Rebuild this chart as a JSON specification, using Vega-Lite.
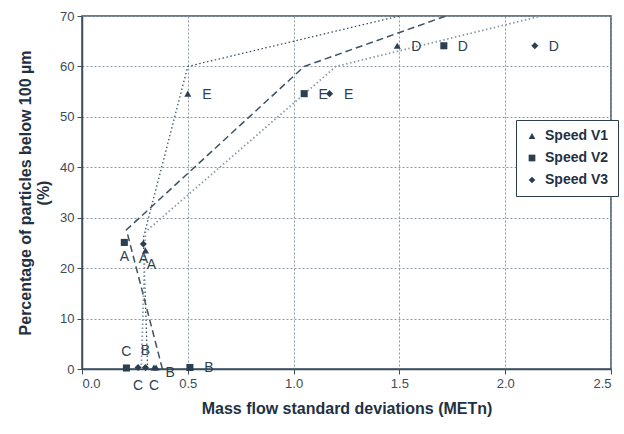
{
  "$schema": "https://vega.github.io/schema/vega-lite/v6.json",
  "width": 529,
  "height": 353,
  "autosize": "none",
  "padding": {"left": 82, "top": 16, "right": 13, "bottom": 65},
  "background": "white",
  "config": {
    "font": "Liberation Sans",
    "view": {"stroke": "#3d4f5f", "strokeWidth": 1.5},
    "axis": {
      "labelFont": "Liberation Sans",
      "labelFontSize": 13,
      "labelColor": "#3b4b5a",
      "tickColor": "#3d4f5f",
      "tickSize": 5,
      "domainColor": "#3d4f5f",
      "domainWidth": 1.5,
      "grid": true,
      "gridColor": "#8c99a5",
      "gridDash": [2, 2],
      "gridWidth": 1,
      "titleFont": "Liberation Sans",
      "titleFontSize": 16,
      "titleFontWeight": "bold",
      "titleColor": "#1f3142"
    },
    "legend": {
      "labelFont": "Liberation Sans",
      "labelFontSize": 14,
      "labelFontWeight": "bold",
      "labelColor": "#1f3142"
    }
  },
  "datasets": {
    "pts": [
      {"series": "Speed V1", "pt": "E", "x": 0.5, "y": 54.6},
      {"series": "Speed V1", "pt": "D", "x": 1.49, "y": 64.1},
      {"series": "Speed V1", "pt": "A", "x": 0.3, "y": 23.5},
      {"series": "Speed V1", "pt": "B", "x": 0.35, "y": 0.3},
      {"series": "Speed V1", "pt": "C", "x": 0.34, "y": 0.3},
      {"series": "Speed V2", "pt": "E", "x": 1.05, "y": 54.6},
      {"series": "Speed V2", "pt": "D", "x": 1.71, "y": 64.1},
      {"series": "Speed V2", "pt": "A", "x": 0.2, "y": 25.1},
      {"series": "Speed V2", "pt": "B", "x": 0.51, "y": 0.3},
      {"series": "Speed V2", "pt": "C", "x": 0.21, "y": 0.2},
      {"series": "Speed V3", "pt": "E", "x": 1.17, "y": 54.6},
      {"series": "Speed V3", "pt": "D", "x": 2.14, "y": 64.1},
      {"series": "Speed V3", "pt": "A", "x": 0.29, "y": 24.8},
      {"series": "Speed V3", "pt": "B", "x": 0.3, "y": 0.3},
      {"series": "Speed V3", "pt": "C", "x": 0.265, "y": 0.3}
    ],
    "lines": [
      {"curve": "V1", "o": 1, "x": 0.31, "y": 0},
      {"curve": "V1", "o": 2, "x": 0.29, "y": 26},
      {"curve": "V1", "o": 3, "x": 0.5, "y": 60},
      {"curve": "V1", "o": 4, "x": 1.5, "y": 70},
      {"curve": "V2", "o": 1, "x": 0.38, "y": 0},
      {"curve": "V2", "o": 2, "x": 0.21, "y": 27.6},
      {"curve": "V2", "o": 3, "x": 1.05, "y": 60},
      {"curve": "V2", "o": 4, "x": 1.72, "y": 70},
      {"curve": "V3", "o": 1, "x": 0.28, "y": 0},
      {"curve": "V3", "o": 2, "x": 0.3, "y": 27.2},
      {"curve": "V3", "o": 3, "x": 1.2, "y": 60},
      {"curve": "V3", "o": 4, "x": 2.17, "y": 70}
    ]
  },
  "encoding": {
    "x": {
      "field": "x", "type": "quantitative",
      "scale": {"domain": [0, 2.5], "nice": false},
      "axis": {"values": [0, 0.5, 1, 1.5, 2, 2.5], "format": ".1f", "labelPadding": 3, "titlePadding": 10, "title": "Mass flow standard deviations (METn)"}
    },
    "y": {
      "field": "y", "type": "quantitative",
      "scale": {"domain": [0, 70], "nice": false},
      "axis": {"values": [0, 10, 20, 30, 40, 50, 60, 70], "labelPadding": 3, "titlePadding": 8, "title": ["Percentage of particles below 100 µm", "(%)"]}
    }
  },
  "layer": [
    {
      "data": {"name": "lines"},
      "mark": {"type": "line", "clip": true},
      "encoding": {
        "order": {"field": "o", "type": "quantitative"},
        "detail": {"field": "curve"},
        "color": {"field": "curve", "type": "nominal", "legend": null,
          "scale": {"domain": ["V1", "V2", "V3"], "range": ["#2f4456", "#3d5263", "#8a9aa8"]}},
        "strokeDash": {"field": "curve", "type": "nominal", "legend": null,
          "scale": {"domain": ["V1", "V2", "V3"], "range": [[1.5, 2.5], [7, 4], [1.5, 2.5]]}},
        "strokeWidth": {"field": "curve", "type": "nominal", "legend": null,
          "scale": {"domain": ["V1", "V2", "V3"], "range": [1.2, 1.8, 1.4]}}
      }
    },
    {
      "data": {"name": "pts"},
      "mark": {"type": "point", "filled": true, "color": "#2c3f51", "opacity": 1, "size": 50},
      "encoding": {
        "shape": {"field": "series", "type": "nominal",
          "scale": {"domain": ["Speed V1", "Speed V2", "Speed V3"], "range": ["triangle-up", "square", "diamond"]},
          "legend": {"title": null, "orient": "none", "legendX": 434, "legendY": 104, "padding": 9, "rowPadding": 8, "symbolSize": 45, "symbolFillColor": "#2c3f51", "symbolStrokeColor": "#2c3f51", "fillColor": "white", "strokeColor": "#2c3f51", "labelOffset": 6}
        }
      }
    },
    {
      "data": {"name": "pts"},
      "transform": [{"filter": "datum.pt == 'D' || datum.pt == 'E' || (datum.series == 'Speed V2' && datum.pt == 'B')"}],
      "mark": {"type": "text", "fontSize": 14, "color": "#2c3f51", "dx": 19, "dy": 1, "align": "center", "baseline": "middle"},
      "encoding": {"text": {"field": "pt"}}
    },
    {
      "data": {"name": "pts"},
      "transform": [{"filter": "datum.pt == 'A' && datum.series != 'Speed V1'"}],
      "mark": {"type": "text", "fontSize": 14, "color": "#2c3f51", "dy": 15, "align": "center", "baseline": "middle"},
      "encoding": {"text": {"field": "pt"}}
    },
    {
      "data": {"name": "pts"},
      "transform": [{"filter": "datum.pt == 'A' && datum.series == 'Speed V1'"}],
      "mark": {"type": "text", "fontSize": 14, "color": "#2c3f51", "dx": 6, "dy": 15, "align": "center", "baseline": "middle"},
      "encoding": {"text": {"field": "pt"}}
    },
    {
      "data": {"name": "pts"},
      "transform": [{"filter": "(datum.pt == 'C' && datum.series == 'Speed V2') || (datum.pt == 'B' && datum.series == 'Speed V3')"}],
      "mark": {"type": "text", "fontSize": 14, "color": "#2c3f51", "dy": -16, "align": "center", "baseline": "middle"},
      "encoding": {"text": {"field": "pt"}}
    },
    {
      "data": {"name": "pts"},
      "transform": [{"filter": "datum.pt == 'C' && datum.series != 'Speed V2'"}],
      "mark": {"type": "text", "fontSize": 14, "color": "#2c3f51", "dy": 19, "align": "center", "baseline": "middle"},
      "encoding": {"text": {"field": "pt"}}
    },
    {
      "data": {"name": "pts"},
      "transform": [{"filter": "datum.pt == 'B' && datum.series == 'Speed V1'"}],
      "mark": {"type": "text", "fontSize": 14, "color": "#2c3f51", "dx": 14, "dy": 6, "align": "center", "baseline": "middle"},
      "encoding": {"text": {"field": "pt"}}
    }
  ]
}
